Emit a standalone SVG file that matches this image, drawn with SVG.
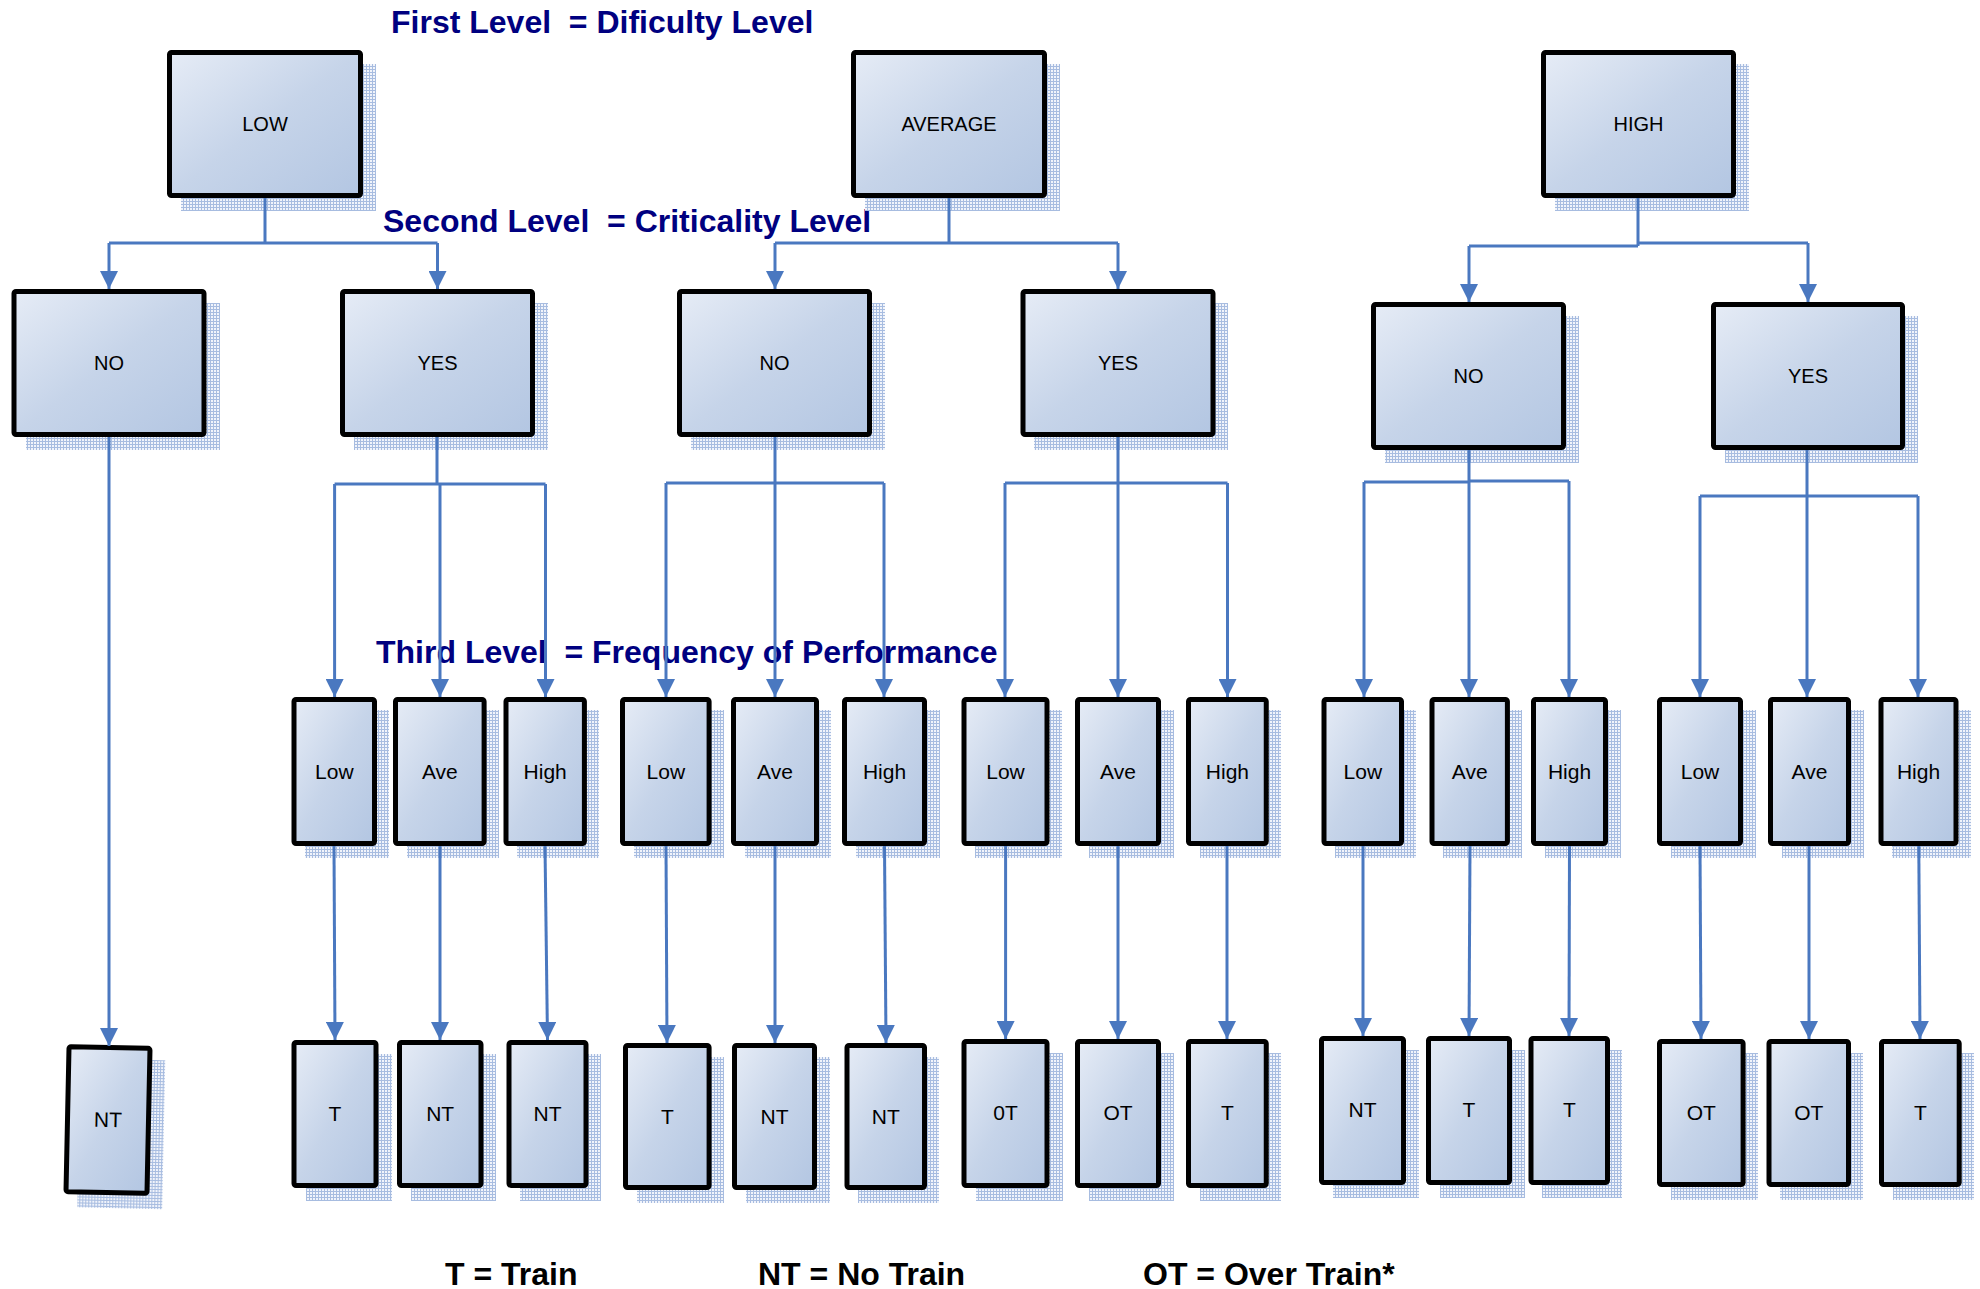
<svg xmlns="http://www.w3.org/2000/svg" width="1980" height="1289" viewBox="0 0 1980 1289">
<defs>
<linearGradient id="boxfill" x1="0" y1="0" x2="1" y2="1">
<stop offset="0" stop-color="#e6ecf6"/>
<stop offset="0.5" stop-color="#c6d4e9"/>
<stop offset="1" stop-color="#b3c6e2"/>
</linearGradient>
<pattern id="hatch" width="3" height="3" patternUnits="userSpaceOnUse">
<rect width="3" height="3" fill="#f1f4fb"/>
<path d="M0,0.5H3M0.5,0V3" stroke="#a7bce0" stroke-width="1"/>
</pattern>
<marker id="arr" markerUnits="userSpaceOnUse" markerWidth="18" markerHeight="18" refX="18" refY="9" orient="auto" viewBox="0 0 18 18">
<path d="M0,0 L18,9 L0,18 z" fill="#4a78c0"/>
</marker>
<style>
.sh{fill:url(#hatch);}
.bx{fill:url(#boxfill);stroke:#000;stroke-width:5;}
.t{font-family:"Liberation Sans",Arial,sans-serif;font-size:20px;fill:#000;text-anchor:middle;}
.t3{font-family:"Liberation Sans",Arial,sans-serif;font-size:21px;fill:#000;text-anchor:middle;}
.lvl{font-family:"Liberation Sans",Arial,sans-serif;font-size:32px;font-weight:bold;fill:#000080;white-space:pre;}
.leg{font-family:"Liberation Sans",Arial,sans-serif;font-size:32px;font-weight:bold;fill:#000;white-space:pre;}
.c{fill:none;stroke:#4a78c0;stroke-width:3;}
.a{fill:none;stroke:#4a78c0;stroke-width:3;marker-end:url(#arr);}
</style>
</defs>
<rect width="1980" height="1289" fill="#fff"/>

<g id="labels">
<text class="lvl" x="391" y="33">First Level  = Dificulty Level</text>
<text class="lvl" x="383" y="232">Second Level  = Criticality Level</text>
<text class="lvl" x="376" y="663">Third Level  = Frequency of Performance</text>
</g>

<!-- Level 1 -->
<g id="n-low"><rect class="sh" x="181" y="64" width="195" height="147"/><rect class="bx" x="169.5" y="52.5" width="191" height="143" rx="2"/><text class="t" x="265" y="131">LOW</text></g>
<g id="n-average"><rect class="sh" x="865" y="64" width="195" height="147"/><rect class="bx" x="853.5" y="52.5" width="191" height="143" rx="2"/><text class="t" x="949" y="131">AVERAGE</text></g>
<g id="n-high"><rect class="sh" x="1555" y="64" width="194" height="147"/><rect class="bx" x="1543.5" y="52.5" width="190" height="143" rx="2"/><text class="t" x="1638.5" y="131">HIGH</text></g>

<!-- Level 2 -->
<g id="n-low-no"><rect class="sh" x="26" y="303" width="194" height="147"/><rect class="bx" x="14" y="291.5" width="190" height="143" rx="2"/><text class="t" x="109" y="370">NO</text></g>
<g id="n-low-yes"><rect class="sh" x="354" y="303" width="194" height="147"/><rect class="bx" x="342.5" y="291.5" width="190" height="143" rx="2"/><text class="t" x="437.5" y="370">YES</text></g>
<g id="n-avg-no"><rect class="sh" x="691" y="303" width="194" height="147"/><rect class="bx" x="679.5" y="291.5" width="190" height="143" rx="2"/><text class="t" x="774.5" y="370">NO</text></g>
<g id="n-avg-yes"><rect class="sh" x="1034" y="303" width="194" height="147"/><rect class="bx" x="1023" y="291.5" width="190" height="143" rx="2"/><text class="t" x="1118" y="370">YES</text></g>
<g id="n-high-no"><rect class="sh" x="1385" y="316" width="194" height="147"/><rect class="bx" x="1373.5" y="304.5" width="190" height="143" rx="2"/><text class="t" x="1468.5" y="383">NO</text></g>
<g id="n-high-yes"><rect class="sh" x="1725" y="316" width="193" height="147"/><rect class="bx" x="1713.5" y="304.5" width="189" height="143" rx="2"/><text class="t" x="1808" y="383">YES</text></g>

<!-- Level 3 -->
<g id="n3-1"><rect class="sh" x="305" y="710" width="84" height="148"/><rect class="bx" x="294" y="699.5" width="80.5" height="144" rx="2"/><text class="t3" x="334.3" y="779">Low</text></g>
<g id="n3-2"><rect class="sh" x="407" y="710" width="92" height="148"/><rect class="bx" x="395.5" y="699.5" width="88.6" height="144" rx="2"/><text class="t3" x="439.8" y="779">Ave</text></g>
<g id="n3-3"><rect class="sh" x="517" y="710" width="82" height="148"/><rect class="bx" x="506" y="699.5" width="78.4" height="144" rx="2"/><text class="t3" x="545.2" y="779">High</text></g>
<g id="n3-4"><rect class="sh" x="634" y="710" width="90" height="148"/><rect class="bx" x="622.5" y="699.5" width="86.6" height="144" rx="2"/><text class="t3" x="665.8" y="779">Low</text></g>
<g id="n3-5"><rect class="sh" x="745" y="710" width="86" height="148"/><rect class="bx" x="733.5" y="699.5" width="83" height="144" rx="2"/><text class="t3" x="775" y="779">Ave</text></g>
<g id="n3-6"><rect class="sh" x="856" y="710" width="84" height="148"/><rect class="bx" x="844.5" y="699.5" width="80" height="144" rx="2"/><text class="t3" x="884.5" y="779">High</text></g>
<g id="n3-7"><rect class="sh" x="975" y="710" width="87" height="148"/><rect class="bx" x="964" y="699.5" width="83" height="144" rx="2"/><text class="t3" x="1005.5" y="779">Low</text></g>
<g id="n3-8"><rect class="sh" x="1089" y="710" width="85" height="148"/><rect class="bx" x="1077.5" y="699.5" width="81" height="144" rx="2"/><text class="t3" x="1118" y="779">Ave</text></g>
<g id="n3-9"><rect class="sh" x="1200" y="710" width="81" height="148"/><rect class="bx" x="1188.5" y="699.5" width="77.75" height="144" rx="2"/><text class="t3" x="1227.4" y="779">High</text></g>
<g id="n3-10"><rect class="sh" x="1335" y="710" width="81" height="148"/><rect class="bx" x="1324" y="699.5" width="77.5" height="144" rx="2"/><text class="t3" x="1362.8" y="779">Low</text></g>
<g id="n3-11"><rect class="sh" x="1443" y="710" width="79" height="148"/><rect class="bx" x="1432" y="699.5" width="75.4" height="144" rx="2"/><text class="t3" x="1469.7" y="779">Ave</text></g>
<g id="n3-12"><rect class="sh" x="1545" y="710" width="76" height="148"/><rect class="bx" x="1533.5" y="699.5" width="72" height="144" rx="2"/><text class="t3" x="1569.5" y="779">High</text></g>
<g id="n3-13"><rect class="sh" x="1671" y="710" width="85" height="148"/><rect class="bx" x="1659.5" y="699.5" width="81" height="144" rx="2"/><text class="t3" x="1700" y="779">Low</text></g>
<g id="n3-14"><rect class="sh" x="1782" y="710" width="82" height="148"/><rect class="bx" x="1770.5" y="699.5" width="78" height="144" rx="2"/><text class="t3" x="1809.5" y="779">Ave</text></g>
<g id="n3-15"><rect class="sh" x="1892" y="710" width="79" height="148"/><rect class="bx" x="1881" y="699.5" width="75" height="144" rx="2"/><text class="t3" x="1918.5" y="779">High</text></g>

<!-- Level 4 -->
<g id="n4-0" transform="rotate(1.2 108 1120)"><rect class="sh" x="79" y="1059" width="85" height="149"/><rect class="bx" x="67.5" y="1047.5" width="81" height="145" rx="2"/><text class="t3" x="108" y="1127">NT</text></g>
<g id="n4-1"><rect class="sh" x="306" y="1054" width="86" height="147"/><rect class="bx" x="294" y="1042.5" width="82" height="143" rx="2"/><text class="t3" x="335" y="1121">T</text></g>
<g id="n4-2"><rect class="sh" x="411" y="1054" width="85" height="147"/><rect class="bx" x="399.5" y="1042.5" width="81.5" height="143" rx="2"/><text class="t3" x="440.2" y="1121">NT</text></g>
<g id="n4-3"><rect class="sh" x="520" y="1054" width="81" height="147"/><rect class="bx" x="509" y="1042.5" width="77" height="143" rx="2"/><text class="t3" x="547.5" y="1121">NT</text></g>
<g id="n4-4"><rect class="sh" x="637" y="1057" width="87" height="146"/><rect class="bx" x="625.5" y="1045.5" width="83.6" height="142" rx="2"/><text class="t3" x="667.3" y="1124">T</text></g>
<g id="n4-5"><rect class="sh" x="746" y="1057" width="84" height="146"/><rect class="bx" x="734.5" y="1045.5" width="80" height="142" rx="2"/><text class="t3" x="774.5" y="1124">NT</text></g>
<g id="n4-6"><rect class="sh" x="858" y="1057" width="81" height="146"/><rect class="bx" x="847" y="1045.5" width="77.5" height="142" rx="2"/><text class="t3" x="885.8" y="1124">NT</text></g>
<g id="n4-7"><rect class="sh" x="976" y="1053" width="87" height="148"/><rect class="bx" x="964" y="1041.5" width="83" height="144" rx="2"/><text class="t3" x="1005.5" y="1120">0T</text></g>
<g id="n4-8"><rect class="sh" x="1089" y="1053" width="85" height="148"/><rect class="bx" x="1077.5" y="1041.5" width="81" height="144" rx="2"/><text class="t3" x="1118" y="1120">OT</text></g>
<g id="n4-9"><rect class="sh" x="1200" y="1053" width="81" height="148"/><rect class="bx" x="1188.5" y="1041.5" width="77.75" height="144" rx="2"/><text class="t3" x="1227.4" y="1120">T</text></g>
<g id="n4-10"><rect class="sh" x="1333" y="1050" width="86" height="148"/><rect class="bx" x="1321.5" y="1038.5" width="82" height="144" rx="2"/><text class="t3" x="1362.5" y="1117">NT</text></g>
<g id="n4-11"><rect class="sh" x="1440" y="1050" width="85" height="148"/><rect class="bx" x="1428.5" y="1038.5" width="81" height="144" rx="2"/><text class="t3" x="1469" y="1117">T</text></g>
<g id="n4-12"><rect class="sh" x="1542" y="1050" width="80" height="148"/><rect class="bx" x="1531" y="1038.5" width="76.5" height="144" rx="2"/><text class="t3" x="1569.3" y="1117">T</text></g>
<g id="n4-13"><rect class="sh" x="1671" y="1053" width="87" height="147"/><rect class="bx" x="1659.5" y="1041.5" width="83.6" height="143" rx="2"/><text class="t3" x="1701.3" y="1120">OT</text></g>
<g id="n4-14"><rect class="sh" x="1780" y="1053" width="83" height="147"/><rect class="bx" x="1769" y="1041.5" width="79.5" height="143" rx="2"/><text class="t3" x="1808.8" y="1120">OT</text></g>
<g id="n4-15"><rect class="sh" x="1893" y="1053" width="81" height="147"/><rect class="bx" x="1881.5" y="1041.5" width="77.7" height="143" rx="2"/><text class="t3" x="1920.3" y="1120">T</text></g>

<g id="connectors">
<!-- level 1 to 2 -->
<path class="c" d="M265,198 V243 M109,243 H437.5"/>
<path class="a" d="M109,243 V289"/>
<path class="a" d="M437.5,243 V289"/>
<path class="c" d="M949,198 V243 M775,243 H1118"/>
<path class="a" d="M775,243 V289"/>
<path class="a" d="M1118,243 V289"/>
<path class="c" d="M1638,198 V246 M1469,246 H1638 M1638,243 H1808"/>
<path class="a" d="M1469,246 V302"/>
<path class="a" d="M1808,243 V302"/>
<!-- level 2 to 3 -->
<path class="a" d="M109,437 V1046"/>
<path class="c" d="M437,437 V484 M334.6,484 H545.5"/>
<path class="a" d="M334.6,484 V697"/>
<path class="a" d="M440,484 V697"/>
<path class="a" d="M545.5,484 V697"/>
<path class="c" d="M775,437 V483 M666,483 H884"/>
<path class="a" d="M666,483 V697"/>
<path class="a" d="M775,483 V697"/>
<path class="a" d="M884,483 V697"/>
<path class="c" d="M1118,437 V483 M1005,483 H1227.5"/>
<path class="a" d="M1005,483 V697"/>
<path class="a" d="M1118,483 V697"/>
<path class="a" d="M1227.5,483 V697"/>
<path class="c" d="M1469,450 V482 M1364,482 H1469 M1469,481 H1569"/>
<path class="a" d="M1364,482 V697"/>
<path class="a" d="M1469,481 V697"/>
<path class="a" d="M1569,481 V697"/>
<path class="c" d="M1807,450 V496 M1700,496 H1918"/>
<path class="a" d="M1700,496 V697"/>
<path class="a" d="M1807,496 V697"/>
<path class="a" d="M1918,496 V697"/>
<!-- level 3 to 4 -->
<path class="a" d="M334,846 L335,1040"/>
<path class="a" d="M440,846 L440,1040"/>
<path class="a" d="M545,846 L547.5,1040"/>
<path class="a" d="M666,846 L667,1043"/>
<path class="a" d="M775,846 L775,1043"/>
<path class="a" d="M884.5,846 L886,1043"/>
<path class="a" d="M1005.6,846 L1005.6,1039"/>
<path class="a" d="M1118,846 L1118,1039"/>
<path class="a" d="M1227,846 L1227,1039"/>
<path class="a" d="M1363,846 L1363,1036"/>
<path class="a" d="M1470,846 L1469,1036"/>
<path class="a" d="M1569.5,846 L1569,1036"/>
<path class="a" d="M1700,846 L1701,1039"/>
<path class="a" d="M1809,846 L1809,1039"/>
<path class="a" d="M1918.8,846 L1920,1039"/>
</g>

<g id="legend">
<text class="leg" x="445" y="1285">T = Train</text>
<text class="leg" x="758" y="1285">NT = No Train</text>
<text class="leg" x="1143" y="1285">OT = Over Train*</text>
</g>
</svg>
